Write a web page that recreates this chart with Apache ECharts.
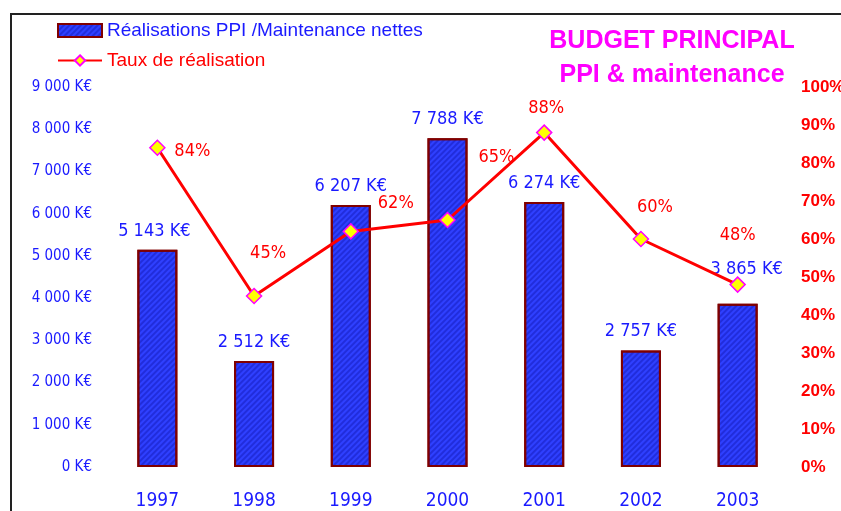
<!DOCTYPE html>
<html>
<head>
<meta charset="utf-8">
<script src="https://cdn.jsdelivr.net/npm/echarts@6/dist/echarts.min.js"></script>
<style>
  html, body { margin: 0; padding: 0; background: #fff; }
  #chart { width: 841px; height: 511px; }
</style>
</head>
<body>
<div id="chart"></div>
<script>
// années
var years = ["1997", "1998", "1999", "2000", "2001", "2002", "2003"];
// réalisations nettes en K€
var realisations = [5143, 2512, 6207, 7788, 6274, 2757, 3865];
// taux de réalisation en %
var taux = [84, 45, 62, 65, 88, 60, 48];

// décalages des étiquettes (style uniquement)
var barLabelOffsets = [[-3, -5], [0, -5], [0, -5], [0, -5], [0, -5], [0, -5], [9, -20]];
var lineLabelOffsets = [[35, 26], [14, -20], [45, -6], [49, -40], [2, -2], [14, -9], [0, -27]];

function fmtK(v) {
  return String(v).replace(/\B(?=(\d{3})+(?!\d))/g, " ") + " K€";
}

var narrow = "'Liberation Sans Narrow', 'DejaVu Sans Condensed', sans-serif";
var arial = "'Liberation Sans', Arial, sans-serif";
var blue = "#1a1aff";
var red = "#ff0000";

var chart = echarts.init(document.getElementById("chart"));
chart.setOption({
  animation: false,
  backgroundColor: "#fff",
  title: {
    text: "BUDGET PRINCIPAL\nPPI & maintenance",
    left: 667,
    top: 19,
    textAlign: "center",
    textStyle: {
      color: "#ff00ff",
      fontFamily: arial,
      fontWeight: "bold",
      fontSize: 25,
      lineHeight: 34
    }
  },
  legend: {
    orient: "vertical",
    left: 52,
    top: 16,
    itemWidth: 44,
    itemHeight: 13,
    itemGap: 11,
    data: [
      { name: "Réalisations PPI /Maintenance nettes", icon: "rect", textStyle: { color: blue } },
      { name: "Taux de réalisation", textStyle: { color: red } }
    ],
    textStyle: { fontFamily: arial, fontSize: 19 }
  },
  graphic: [{
    type: "rect",
    shape: { x: 11, y: 14, width: 900, height: 600 },
    style: { fill: "none", stroke: "#222", lineWidth: 2 },
    silent: true
  }],
  grid: { left: 109, right: 55, top: 87, bottom: 44, outerBoundsMode: "none", containLabel: false },
  xAxis: {
    type: "category",
    data: years,
    axisLine: { show: false },
    axisTick: { show: false },
    axisLabel: { color: blue, fontFamily: narrow, fontSize: 19, margin: 25 }
  },
  yAxis: [{
    type: "value",
    min: 0,
    max: 9000,
    interval: 1000,
    splitLine: { show: false },
    axisLine: { show: false },
    axisTick: { show: false },
    axisLabel: { color: blue, fontFamily: narrow, fontSize: 15, margin: 17, formatter: fmtK }
  }, {
    type: "value",
    min: 0,
    max: 100,
    interval: 10,
    splitLine: { show: false },
    axisLine: { show: false },
    axisTick: { show: false },
    axisLabel: {
      color: red, fontFamily: arial, fontWeight: "bold",
      fontSize: 17, margin: 15, formatter: "{value}%"
    }
  }],
  series: [{
    name: "Réalisations PPI /Maintenance nettes",
    type: "bar",
    barWidth: 40,
    data: realisations.map(function (v, i) {
      return { value: v, label: { offset: barLabelOffsets[i] } };
    }),
    itemStyle: {
      color: "#2f40ff",
      borderColor: "#800000",
      borderWidth: 2,
      decal: {
        symbol: "rect",
        symbolSize: 1,
        dashArrayX: [1, 0],
        dashArrayY: [2, 2],
        rotation: -Math.PI / 4,
        color: "rgba(0, 0, 140, 0.3)"
      }
    },
    label: {
      show: true,
      position: "top",
      color: blue,
      fontFamily: narrow,
      fontSize: 18,
      formatter: function (p) { return fmtK(p.value); }
    },
    z: 1
  }, {
    name: "Taux de réalisation",
    type: "line",
    yAxisIndex: 1,
    data: taux.map(function (v, i) {
      return { value: v, label: { offset: lineLabelOffsets[i] } };
    }),
    symbol: "diamond",
    symbolSize: 15,
    lineStyle: { color: red, width: 3 },
    itemStyle: { color: "#ffff00", borderColor: "#ff00ff", borderWidth: 1.5 },
    label: {
      show: true,
      position: "top",
      color: red,
      fontFamily: narrow,
      fontSize: 18,
      formatter: "{c}%"
    },
    z: 3
  }]
});
</script>
</body>
</html>
